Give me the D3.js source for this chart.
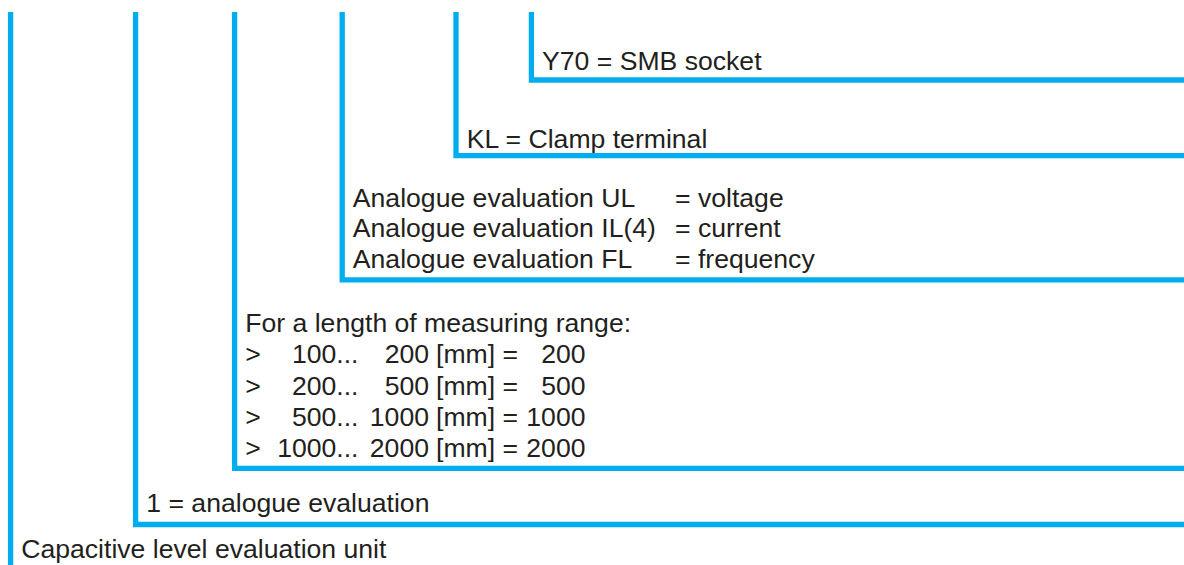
<!DOCTYPE html>
<html>
<head>
<meta charset="utf-8">
<script src="https://cdn.jsdelivr.net/npm/d3@7"></script>
<style>
  html, body { margin: 0; padding: 0; background: #ffffff; }
  svg { display: block; }
  text { font-family: "Liberation Sans", Arial, Helvetica, sans-serif; font-size: 26.6px; fill: #231f20; }
</style>
</head>
<body>
<svg id="chart" width="1184" height="565"></svg>
<script>
// ---- data ----
const levels = ["unit", "evaluation", "range", "analogue", "terminal", "socket"];
const unitLabel = ["Capacitive level evaluation unit"];
const evaluationLabel = ["1 = analogue evaluation"];
const rangeTitle = ["For a length of measuring range:"];
const rangeFrom = ["100...", "200...", "500...", "1000..."];
const rangeTo = ["200", "500", "1000", "2000"];
const rangeCode = ["200", "500", "1000", "2000"];
const analogueNames = ["Analogue evaluation UL", "Analogue evaluation IL(4)", "Analogue evaluation FL"];
const analogueValues = ["= voltage", "= current", "= frequency"];
const terminalLabel = ["KL = Clamp terminal"];
const socketLabel = ["Y70 = SMB socket"];

// ---- layout ----
const W = 1184, H = 565;
const svg = d3.select("#chart");
const color = "#00aeef";
const sw = 5.3;
const topY = 12;

const xLine = d3.scaleOrdinal().domain(levels).range([10.6, 135.6, 234.6, 342.2, 456, 531.4]);
const yBottom = d3.scaleOrdinal().domain(levels).range([H + 5, 524.5, 468.4, 279.8, 155.6, 80]);
const textGap = 8;

// lines
levels.forEach((lv, i) => {
  const x = xLine(lv), yb = yBottom(lv);
  const pts = i === 0 ? [[x, topY], [x, yb]] : [[x, topY], [x, yb], [W + 10, yb]];
  svg.append("path")
    .attr("d", d3.line()(pts))
    .attr("fill", "none")
    .attr("stroke", color)
    .attr("stroke-width", sw)
    .attr("stroke-linejoin", "miter")
    .attr("stroke-linecap", "butt");
});

const tx = lv => xLine(lv) + sw / 2 + textGap;
const lh = 31.1;

// level 0
svg.append("text").attr("x", tx("unit")).attr("y", 558).text(unitLabel[0]);
// level 1
svg.append("text").attr("x", tx("evaluation")).attr("y", 511.5).text(evaluationLabel[0]);
// level 2
const rx = tx("range");
const rb = 332.3;
svg.append("text").attr("x", rx).attr("y", rb).text(rangeTitle[0]);
rangeFrom.forEach((f, i) => {
  const y = rb + lh * (i + 1);
  svg.append("text").attr("x", rx).attr("y", y).text(">");
  svg.append("text").attr("x", 358.5).attr("y", y).attr("text-anchor", "end").text(f);
  svg.append("text").attr("x", 429).attr("y", y).attr("text-anchor", "end").text(rangeTo[i]);
  svg.append("text").attr("x", 436).attr("y", y).text("[mm] =");
  svg.append("text").attr("x", 585.5).attr("y", y).attr("text-anchor", "end").text(rangeCode[i]);
});
// level 3
const ax = tx("analogue");
analogueNames.forEach((n, i) => {
  const y = 206.8 + 30.4 * i;
  svg.append("text").attr("x", ax).attr("y", y).text(n);
  svg.append("text").attr("x", 675).attr("y", y).text(analogueValues[i]);
});
// level 4
svg.append("text").attr("x", tx("terminal")).attr("y", 147.5).text(terminalLabel[0]);
// level 5
svg.append("text").attr("x", tx("socket")).attr("y", 70).text(socketLabel[0]);
</script>
</body>
</html>
